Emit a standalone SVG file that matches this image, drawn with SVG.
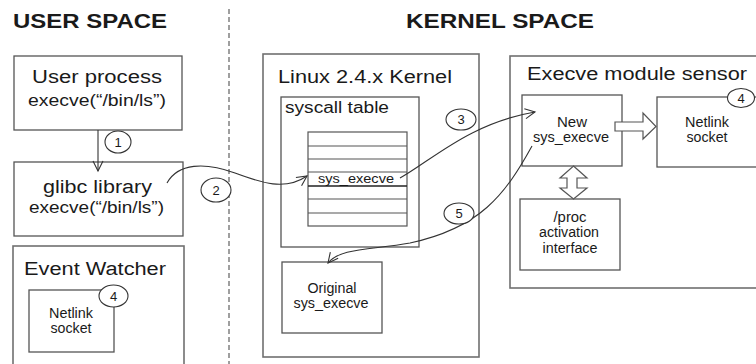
<svg xmlns="http://www.w3.org/2000/svg" width="756" height="364" viewBox="0 0 756 364">
<style>
text{font-family:"Liberation Sans",Arial,sans-serif;fill:#1a1a1a}
.title{font-size:20px;font-weight:bold}
.big{font-size:18px}
.mid{font-size:16px}
.sm{font-size:14px}
.outer{fill:#fff;stroke:#707070;stroke-width:1.6}
.box{fill:#fff;stroke:#555;stroke-width:1.3}
.num{fill:#fff;stroke:#333;stroke-width:1.1}
.numt{font-size:13px;text-anchor:middle}
.conn{fill:none;stroke:#333;stroke-width:1.1}
.blk{fill:#fff;stroke:#555;stroke-width:1.2}
</style>
<defs>
<marker id="arr" markerUnits="userSpaceOnUse" markerWidth="14" markerHeight="14" refX="11" refY="6" orient="auto" viewBox="0 0 14 12">
<path d="M1,1 L11,6 L1,11" fill="none" stroke="#333" stroke-width="1.1"/>
</marker>
</defs>
<rect width="756" height="364" fill="#fff"/>

<line x1="229" y1="9" x2="229" y2="364" stroke="#888" stroke-width="1.6" stroke-dasharray="5,3"/>
<text class="title" x="13" y="28" textLength="154" lengthAdjust="spacingAndGlyphs">USER SPACE</text>
<text class="title" x="406" y="28" textLength="188" lengthAdjust="spacingAndGlyphs">KERNEL SPACE</text>

<g id="user-process">
<rect class="box" x="14" y="56" width="168" height="74"/>
<text class="big" x="32" y="83" textLength="130" lengthAdjust="spacingAndGlyphs">User process</text>
<text class="mid" x="28" y="106" textLength="138" lengthAdjust="spacingAndGlyphs">execve(“/bin/ls”)</text>
</g>

<g id="glibc">
<rect class="box" x="14" y="162" width="169" height="74"/>
<text class="big" x="43" y="193" textLength="109" lengthAdjust="spacingAndGlyphs">glibc library</text>
<text class="mid" x="29" y="213" textLength="135" lengthAdjust="spacingAndGlyphs">execve(“/bin/ls”)</text>
</g>

<g id="event-watcher">
<rect class="outer" x="13" y="246" width="171" height="130"/>
<text class="big" x="24" y="275" textLength="142" lengthAdjust="spacingAndGlyphs">Event Watcher</text>
</g>
<g id="ew-netlink">
<rect class="box" x="29" y="290" width="85" height="62"/>
<text class="sm" x="71" y="318" text-anchor="middle" textLength="44" lengthAdjust="spacingAndGlyphs">Netlink</text>
<text class="sm" x="71" y="333" text-anchor="middle" textLength="41" lengthAdjust="spacingAndGlyphs">socket</text>
</g>

<g id="linux-kernel">
<rect class="outer" x="263" y="54" width="216" height="303"/>
<text class="big" x="278" y="83" textLength="174" lengthAdjust="spacingAndGlyphs">Linux 2.4.x Kernel</text>
</g>
<g id="syscall-table">
<rect class="box" x="281" y="97" width="138" height="150"/>
<text class="mid" x="285" y="113" textLength="104" lengthAdjust="spacingAndGlyphs">syscall table</text>
<rect x="308" y="132" width="99" height="94" fill="#fff" stroke="#555" stroke-width="1.2"/>
<g stroke="#555" stroke-width="1.2">
<line x1="308" y1="146" x2="407" y2="146"/>
<line x1="308" y1="159" x2="407" y2="159"/>
<line x1="308" y1="172" x2="407" y2="172"/>
<line x1="308" y1="199" x2="407" y2="199"/>
<line x1="308" y1="213" x2="407" y2="213"/>
</g>
<line x1="308" y1="186" x2="407" y2="186" stroke="#222" stroke-width="1.3"/>
<text x="318" y="183" font-size="12.5" textLength="76" lengthAdjust="spacingAndGlyphs">sys_execve</text>
</g>
<g id="original-sys-execve">
<rect class="box" x="282" y="262" width="100" height="71"/>
<text class="sm" x="332" y="293" text-anchor="middle" textLength="49" lengthAdjust="spacingAndGlyphs">Original</text>
<text class="sm" x="331" y="308" text-anchor="middle" textLength="75" lengthAdjust="spacingAndGlyphs">sys_execve</text>
</g>

<g id="execve-module-sensor">
<rect class="outer" x="510" y="56" width="260" height="232"/>
<text class="big" x="527" y="80" textLength="220" lengthAdjust="spacingAndGlyphs">Execve module sensor</text>
</g>
<g id="new-sys-execve">
<rect class="box" x="522" y="95" width="100" height="71"/>
<text class="sm" x="572" y="127" text-anchor="middle" textLength="30" lengthAdjust="spacingAndGlyphs">New</text>
<text class="sm" x="571" y="142" text-anchor="middle" textLength="76" lengthAdjust="spacingAndGlyphs">sys_execve</text>
</g>
<g id="k-netlink">
<rect class="box" x="657" y="97" width="110" height="70"/>
<text class="sm" x="707" y="127" text-anchor="middle" textLength="44" lengthAdjust="spacingAndGlyphs">Netlink</text>
<text class="sm" x="707" y="142" text-anchor="middle" textLength="41" lengthAdjust="spacingAndGlyphs">socket</text>
</g>
<g id="proc-interface">
<rect class="box" x="520" y="199" width="100" height="71"/>
<text class="sm" x="570" y="222" text-anchor="middle" textLength="33" lengthAdjust="spacingAndGlyphs">/proc</text>
<text class="sm" x="569" y="237" text-anchor="middle" textLength="60" lengthAdjust="spacingAndGlyphs">activation</text>
<text class="sm" x="570" y="253" text-anchor="middle" textLength="55" lengthAdjust="spacingAndGlyphs">interface</text>
</g>

<g id="connectors">
<line class="conn" x1="98" y1="130" x2="98" y2="171" marker-end="url(#arr)"/>
<path class="conn" d="M167,183 C178,163 205,162 235,173 C262,183 285,191 307,176" marker-end="url(#arr)"/>
<path class="conn" d="M400,178 C432,160 470,123 535,112" marker-end="url(#arr)"/>
<path class="conn" d="M532,146 C505,195 480,228 410,243 C370,250 340,248 328,263" marker-end="url(#arr)"/>
<polygon class="blk" points="615,122 643,122 643,113 656,126.5 643,139 643,131 615,131"/>
<polygon class="blk" points="573.5,166 587,178 577,178 577,188 587,188 573.5,199 560,188 567,188 567,178 560,178"/>
</g>

<g id="markers">
<ellipse class="num" cx="118" cy="142" rx="13" ry="11"/>
<text class="numt" x="118" y="146.5">1</text>
<ellipse class="num" cx="216" cy="190" rx="15" ry="12"/>
<text class="numt" x="216" y="194.5">2</text>
<ellipse class="num" cx="461" cy="119.5" rx="15" ry="10.5"/>
<text class="numt" x="461" y="124">3</text>
<ellipse class="num" cx="459" cy="213.5" rx="15" ry="10.5"/>
<text class="numt" x="459" y="218">5</text>
<ellipse class="num" cx="741" cy="98" rx="13.5" ry="9.5"/>
<text class="numt" x="741" y="102.5">4</text>
<ellipse class="num" cx="113.5" cy="296" rx="14.5" ry="11"/>
<text class="numt" x="113.5" y="300.5">4</text>
</g>
</svg>
